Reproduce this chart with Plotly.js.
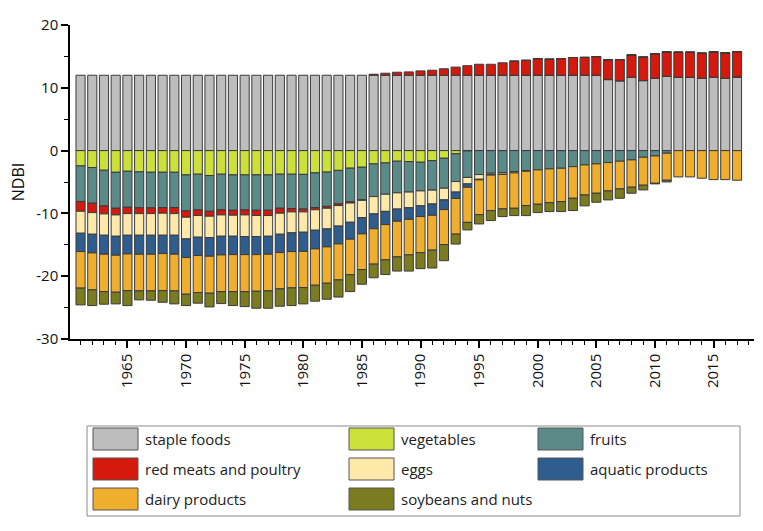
<!DOCTYPE html>
<html>
<head>
<meta charset="utf-8">
<script src="https://cdn.plot.ly/plotly-3.0.1.min.js"></script>
<style>
  html, body { margin: 0; padding: 0; background: #fff; }
  #chart { width: 763px; height: 531px; }
</style>
</head>
<body>
<div id="chart"></div>
<script>
const years = [1961, 1962, 1963, 1964, 1965, 1966, 1967, 1968, 1969, 1970,
               1971, 1972, 1973, 1974, 1975, 1976, 1977, 1978, 1979, 1980,
               1981, 1982, 1983, 1984, 1985, 1986, 1987, 1988, 1989, 1990,
               1991, 1992, 1993, 1994, 1995, 1996, 1997, 1998, 1999, 2000,
               2001, 2002, 2003, 2004, 2005, 2006, 2007, 2008, 2009, 2010,
               2011, 2012, 2013, 2014, 2015, 2016, 2017];

const staple = [12, 12, 12, 12, 12, 12, 12, 12, 12, 12,
                12, 12, 12, 12, 12, 12, 12, 12, 12, 12,
                12, 12, 12, 12, 12, 12, 12, 12, 12, 12,
                12, 12, 12, 12, 12, 12, 12, 12, 12, 12,
                12, 12, 12, 12, 12, 11.31, 11.12, 11.68, 11.15, 11.52,
                11.84, 11.68, 11.68, 11.52, 11.68, 11.52, 11.73];

const vegetables = [-2.44, -2.70, -3.13, -3.45, -3.29, -3.39, -3.45, -3.45, -3.45, -3.87,
                    -3.76, -3.98, -3.76, -3.87, -3.87, -3.87, -3.87, -3.76, -3.76, -3.79,
                    -3.55, -3.42, -3.15, -2.80, -2.65, -2.12, -1.96, -1.69, -1.75, -1.85,
                    -1.60, -1.22, -0.50, -0.05, 0, 0, 0, 0, 0, 0,
                    0, 0, 0, 0, 0, 0, 0, 0, 0, 0,
                    0, 0, 0, 0, 0, 0, 0];

const fruits = [-5.66, -5.68, -5.67, -5.73, -5.73, -5.73, -5.67, -5.62, -5.62, -5.73,
                -5.68, -5.68, -5.68, -5.63, -5.57, -5.63, -5.63, -5.42, -5.47, -5.52,
                -5.52, -5.46, -5.34, -5.34, -5.22, -5.20, -4.99, -5.04, -4.85, -4.57,
                -4.70, -4.77, -4.43, -4.22, -3.82, -3.61, -3.50, -3.34, -3.18, -3.07,
                -2.91, -2.81, -2.55, -2.28, -2.12, -1.91, -1.69, -1.48, -1.06, -0.85,
                -0.42, 0, 0, 0, 0, 0, 0];

const redMeats = [-1.56, -1.49, -1.28, -1.06, -1.01, -0.91, -0.91, -0.90, -0.96, -1.01,
                  -0.90, -0.79, -0.80, -0.79, -0.80, -0.84, -0.84, -0.79, -0.53, -0.45,
                  -0.35, -0.30, -0.26, -0.21, -0.05, 0.16, 0.32, 0.48, 0.53, 0.69,
                  0.80, 1.03, 1.30, 1.52, 1.75, 1.75, 1.98, 2.25, 2.38, 2.65,
                  2.55, 2.65, 2.82, 2.84, 2.97, 3.16, 3.37, 3.56, 3.74, 3.90,
                  3.88, 3.98, 3.98, 3.98, 4.04, 4.04, 4.04];

const eggs = [-3.50, -3.45, -3.40, -3.40, -3.45, -3.45, -3.45, -3.51, -3.45, -3.45,
              -3.45, -3.40, -3.40, -3.35, -3.45, -3.35, -3.30, -3.35, -3.34, -3.24,
              -3.26, -3.29, -3.27, -3.06, -2.77, -2.76, -2.73, -2.58, -2.50, -2.38,
              -2.20, -1.86, -1.67, -1.03, -0.74, -0.26, -0.27, -0.21, -0.11, 0,
              0, 0, 0, 0, 0, 0, 0, 0, 0, 0,
              0, 0, 0, 0, 0, 0, 0];

const aquatic = [-2.92, -2.97, -3.02, -3.02, -2.97, -3.02, -3.02, -2.92, -3.02, -2.97,
                 -2.92, -2.97, -2.97, -2.92, -2.87, -2.87, -2.86, -2.92, -2.98, -3.05,
                 -2.97, -2.86, -2.84, -2.70, -2.57, -2.36, -2.10, -1.94, -1.85, -1.70,
                 -1.80, -1.54, -1.02, -0.54, -0.10, -0.03, -0.03, 0, 0, 0,
                 0, 0, 0, 0, 0, 0, 0, 0, 0, 0,
                 0, 0, 0, 0, 0, 0, 0];

const dairy = [-5.82, -5.89, -5.95, -5.89, -5.84, -5.84, -5.84, -5.89, -5.84, -5.84,
               -5.89, -5.89, -5.84, -5.89, -5.89, -5.84, -5.84, -5.78, -5.78, -5.76,
               -5.79, -5.79, -5.73, -5.66, -5.68, -5.63, -5.62, -5.67, -5.65, -5.75,
               -5.55, -5.57, -5.68, -5.59, -5.53, -5.65, -5.48, -5.63, -5.46, -5.47,
               -5.37, -5.31, -5.04, -4.78, -4.67, -4.51, -4.41, -4.35, -4.45, -4.35,
               -4.30, -4.19, -4.19, -4.40, -4.62, -4.62, -4.72];

const soybeans = [-2.67, -2.50, -2.01, -1.86, -2.39, -1.43, -1.49, -1.86, -2.07, -1.81,
                  -1.70, -2.18, -1.91, -2.23, -2.39, -2.70, -2.76, -2.76, -2.82, -2.60,
                  -2.54, -2.55, -2.73, -2.68, -2.34, -2.18, -2.34, -2.26, -2.58, -2.55,
                  -2.85, -2.57, -1.58, -1.20, -1.49, -1.59, -1.23, -1.17, -1.60, -1.33,
                  -1.43, -1.59, -1.96, -1.74, -1.43, -1.43, -1.49, -0.96, -0.75, -0.10,
                  -0.27, 0, 0, 0, 0, 0, 0];

const yTickVals = [-30, -20, -10, 0, 10, 20];
const yTickText = ['-30', '-20', '-10', '0', '10', '20'];

const names = ['staple foods', 'vegetables', 'fruits', 'red meats and poultry',
               'eggs', 'aquatic products', 'dairy products', 'soybeans and nuts'];
const colors = ['#bdbdbd', '#cce03a', '#5b8b89', '#d5190c',
                '#fee9a9', '#2e5d8e', '#efae2d', '#7b7b1f'];
const series = [staple, vegetables, fruits, redMeats, eggs, aquatic, dairy, soybeans];

const FONT = 'Open Sans, Noto Sans, sans-serif';

const traces = series.map((vals, i) => ({
    type: 'bar',
    x: years,
    y: vals,
    name: names[i],
    marker: { color: colors[i], line: { color: '#3a3a3a', width: 1 } },
    hoverinfo: 'x+y+name'
}));

// plot area in pixels, used to place the hand-made legend box
const L = 70, T = 25, W = 684, H = 314;
const px = x => (x - L) / W;
const py = y => (T + H - y) / H;

const shapes = [{
    type: 'rect', xref: 'paper', yref: 'paper',
    x0: px(87), x1: px(740), y0: py(426), y1: py(516),
    line: { color: '#8a8a8a', width: 1 }, fillcolor: 'rgba(0,0,0,0)'
}];
const annotations = [];
const colX = [93, 349, 538];
const rowY = [439, 469, 499];
names.forEach((n, i) => {
    const cx = colX[i % 3], cy = rowY[Math.floor(i / 3)];
    shapes.push({
        type: 'rect', xref: 'paper', yref: 'paper',
        x0: px(cx), x1: px(cx + 45), y0: py(cy - 11), y1: py(cy + 11),
        fillcolor: colors[i], line: { color: '#555', width: 1 }
    });
    annotations.push({
        xref: 'paper', yref: 'paper', x: px(cx + 50), y: py(cy),
        xanchor: 'left', yanchor: 'middle', showarrow: false,
        text: n, font: { family: FONT, size: 15, color: '#222' }
    });
});

const layout = {
    width: 763, height: 531,
    margin: { l: L, r: 763 - L - W, t: T, b: 531 - T - H },
    barmode: 'relative',
    bargap: 0.22,
    showlegend: false,
    paper_bgcolor: '#fff', plot_bgcolor: '#fff',
    font: { family: FONT, size: 14, color: '#111' },
    xaxis: {
        range: [1960.1, 2018.45],
        tick0: 1960, dtick: 5,
        tickangle: -90,
        ticks: 'outside', ticklen: 7, tickwidth: 1.5, tickcolor: '#000',
        minor: { dtick: 1, tick0: 1960, ticks: 'outside', ticklen: 4, tickwidth: 1.2, tickcolor: '#000' },
        showline: true, linecolor: '#000', linewidth: 1.5,
        showgrid: false, zeroline: false,
        tickfont: { family: FONT, size: 15, color: '#111' }
    },
    yaxis: {
        range: [-30, 20],
        tickvals: yTickVals, ticktext: yTickText,
        ticks: 'outside', ticklen: 7, tickwidth: 1.5, tickcolor: '#000',
        minor: { dtick: 5, ticks: 'outside', ticklen: 4, tickwidth: 1.2, tickcolor: '#000' },
        showline: true, linecolor: '#000', linewidth: 1.5,
        showgrid: false, zeroline: false,
        tickfont: { family: FONT, size: 15, color: '#111' },
        title: { text: 'NDBI', standoff: 8, font: { family: FONT, size: 16, color: '#111' } }
    },
    shapes: shapes,
    annotations: annotations
};

Plotly.newPlot('chart', traces, layout, { displayModeBar: false, responsive: false });
</script>
</body>
</html>
